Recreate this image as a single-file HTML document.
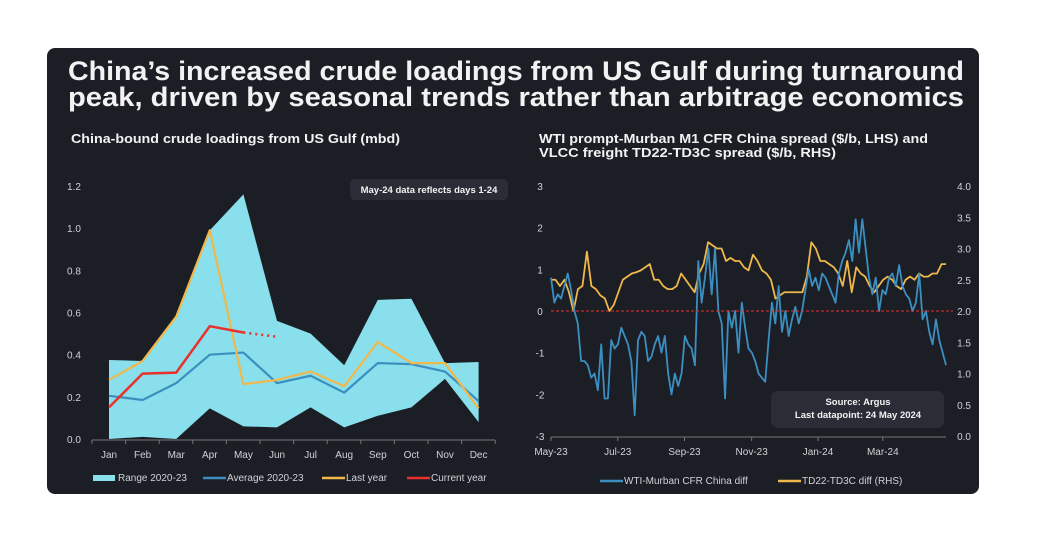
<!DOCTYPE html>
<html><head><meta charset="utf-8"><style>
html,body{margin:0;padding:0;background:#fff;}
svg{display:block;font-family:"Liberation Sans",sans-serif;}
</style></head><body>
<svg id="c" width="1050" height="547" xmlns="http://www.w3.org/2000/svg">
<rect x="47" y="48" width="932" height="446" rx="8" fill="#1c1e26"/>
<text x="516" y="80" text-anchor="middle" font-size="27" font-weight="bold" fill="#f2f2f2" textLength="896" lengthAdjust="spacingAndGlyphs">China’s increased crude loadings from US Gulf during turnaround</text>
<text x="516" y="106" text-anchor="middle" font-size="27" font-weight="bold" fill="#f2f2f2" textLength="896" lengthAdjust="spacingAndGlyphs">peak, driven by seasonal trends rather than arbitrage economics</text>
<text x="71" y="143" font-size="13" font-weight="bold" fill="#f2f2f2" textLength="329" lengthAdjust="spacingAndGlyphs">China-bound crude loadings from US Gulf (mbd)</text>
<text x="539" y="143" font-size="13" font-weight="bold" fill="#f2f2f2" textLength="389" lengthAdjust="spacingAndGlyphs">WTI prompt-Murban M1 CFR China spread ($/b, LHS) and</text>
<text x="539" y="157" font-size="13" font-weight="bold" fill="#f2f2f2" textLength="297" lengthAdjust="spacingAndGlyphs">VLCC freight TD22-TD3C spread ($/b, RHS)</text>
<g id="left"></g>
<g id="right"></g>
</svg>
<script>
const months=["Jan","Feb","Mar","Apr","May","Jun","Jul","Aug","Sep","Oct","Nov","Dec"];
const rangeHigh=[0.375,0.37,0.58,0.99,1.16,0.56,0.5,0.35,0.66,0.665,0.36,0.365];
const rangeLow=[0.0,0.01,0.0,0.145,0.06,0.055,0.15,0.055,0.11,0.15,0.285,0.08];
const average=[0.205,0.185,0.265,0.4,0.41,0.265,0.3,0.22,0.36,0.355,0.32,0.18];
const lastYear=[0.28,0.37,0.58,0.99,0.26,0.28,0.32,0.25,0.46,0.36,0.36,0.145];
const currentYear=[0.15,0.31,0.315,0.535,0.505];
const currentEstimate=0.485;
const leftTicks=[0,0.2,0.4,0.6,0.8,1.0,1.2];

const rightTickLabels=["May-23","Jul-23","Sep-23","Nov-23","Jan-24","Mar-24"];
const rightTickPos=[0,0.169,0.338,0.508,0.676,0.84];
const wti=[0.8,0.2,0.4,0.3,0.6,0.9,0.5,0.0,-0.3,-1.2,-1.2,-1.3,-1.6,-1.5,-1.9,-0.8,-2.1,-2.1,-0.7,-0.9,-0.8,-0.4,-0.6,-0.8,-1.2,-2.5,-0.7,-0.5,-0.6,-1.2,-1.1,-0.8,-0.6,-1.0,-0.6,-1.5,-2.0,-1.5,-1.8,-1.5,-0.6,-0.8,-0.9,-1.3,1.2,0.2,0.8,1.5,0.4,1.5,0.0,-0.3,-2.1,0.0,-0.4,0.0,-1.0,0.2,-0.4,-0.9,-1.0,-1.2,-1.5,-1.6,-1.7,-0.7,0.2,-0.3,0.6,-0.5,0.0,-0.6,-0.2,0.1,-0.3,0.0,0.5,1.0,0.6,0.8,0.5,0.9,0.8,0.6,0.4,0.2,0.9,1.2,1.4,1.7,1.2,2.2,1.4,2.2,1.5,0.8,0.4,0.8,0.0,0.5,0.4,0.8,0.9,0.6,1.1,0.6,0.4,0.3,0.0,0.2,0.9,-0.2,0.0,-0.5,-0.8,-0.2,-0.7,-1.0,-1.3];
const td22=[2.5,2.5,2.4,2.5,2.3,2.0,2.35,2.4,2.95,2.4,2.35,2.25,2.2,2.0,2.1,2.3,2.5,2.55,2.6,2.62,2.65,2.7,2.75,2.5,2.5,2.4,2.35,2.35,2.4,2.6,2.5,2.4,2.3,2.6,2.75,3.1,3.05,3.0,3.0,2.8,2.85,2.8,2.8,2.7,2.65,2.9,2.8,2.65,2.6,2.5,2.2,2.25,2.3,2.3,2.3,2.3,2.3,2.55,3.1,3.0,2.8,2.8,2.75,2.7,2.6,2.4,2.8,2.3,2.7,2.6,2.55,2.4,2.3,2.4,2.5,2.55,2.5,2.4,2.35,2.5,2.55,2.5,2.6,2.55,2.55,2.6,2.6,2.75,2.75];
const wtiTicks=[-3,-2,-1,0,1,2,3];
const tdTicks=[0,0.5,1,1.5,2,2.5,3,3.5,4];

const NS="http://www.w3.org/2000/svg";
function mk(parent,tag,attrs,text){const e=document.createElementNS(NS,tag);for(const k in attrs)e.setAttribute(k,attrs[k]);if(text!==undefined)e.textContent=text;parent.appendChild(e);return e;}

// LEFT
const L=document.getElementById('left');
const lx=i=>109+i*33.6;
const ly=v=>439-v*(253/1.2);
leftTicks.forEach(t=>{const e=mk(L,'text',{x:67,y:ly(t)+4,'font-size':10,fill:'#cfd2d6'},t.toFixed(1));

});
let d='';rangeHigh.forEach((v,i)=>d+=(i?'L':'M')+lx(i)+','+ly(v));
for(let i=rangeLow.length-1;i>=0;i--)d+='L'+lx(i)+','+ly(rangeLow[i]);
let a=mk(L,'path',{d:d+'Z',fill:'#89dfeb'});


let ax=mk(L,'line',{x1:92,x2:495,y1:440,y2:440,stroke:'#777',
'stroke-width':1});


for(let i=0;i<=12;i++){const t=mk(L,'line',{x1:92+i*33.6,x2:92+i*33.6,y1:440,y2:444,stroke:'#777'});

}
months.forEach((m,i)=>{const e=mk(L,'text',{x:lx(i),y:458,'font-size':10,fill:'#cfd2d6','text-anchor':'middle'},m);

});
function line(parent,vals,xf,yf,color,w){return mk(parent,'polyline',{points:vals.map((v,i)=>xf(i)+','+yf(v)).join(' '),fill:'none',stroke:color,'stroke-width':w,'stroke-linejoin':'round'});}
let p=line(L,average,lx,ly,'#3b8fc0',2.2);


p=line(L,lastYear,lx,ly,'#f0b84a',2.2);


p=line(L,currentYear,lx,ly,'#e8312a',2.5);


const n=currentYear.length-1;
p=mk(L,'line',{x1:lx(n),y1:ly(currentYear[n]),x2:lx(n+1),y2:ly(currentEstimate),stroke:'#e8312a','stroke-width':2.5,'stroke-dasharray':'2,4'});


let g=mk(L,'g',{});


mk(g,'rect',{x:350,y:179,width:158,height:21,rx:5,fill:'#2a2d36'});
mk(g,'text',{x:429,y:193,'font-size':9.5,'font-weight':'bold',fill:'#f2f2f2','text-anchor':'middle'},'May-24 data reflects days 1-24');
const legL=[['rect','#89dfeb','Range 2020-23',93],['line','#3b8fc0','Average 2020-23',203],['line','#f0b84a','Last year',322],['line','#e8312a','Current year',407]];
legL.forEach(([k,c,t,x])=>{const gg=mk(L,'g',{});


if(k==='rect')mk(gg,'rect',{x:x,y:475,width:22,height:6,fill:c});else mk(gg,'line',{x1:x,x2:x+23,y1:478,y2:478,stroke:c,'stroke-width':2.5});
mk(gg,'text',{x:x+(k==='rect'?25:24),y:481,'font-size':10,fill:'#cfd2d6'},t);});

// RIGHT
const R=document.getElementById('right');
const x0=551,x1=946;
const rxw=i=>x0+i*(x1-x0)/(wti.length-1);
const rxt=i=>x0+i*(x1-x0)/(td22.length-1);
const ryl=v=>311-v*41.67;
const ryr=v=>436-v*62.5;
wtiTicks.forEach(t=>{const e=mk(R,'text',{x:540,y:ryl(t)+4,'font-size':10,fill:'#cfd2d6','text-anchor':'middle'},String(t));

});
tdTicks.forEach(t=>{const e=mk(R,'text',{x:971,y:ryr(t)+4,'font-size':10,fill:'#cfd2d6','text-anchor':'end'},t.toFixed(1));

});
ax=mk(R,'line',{x1:551,x2:946,y1:437,y2:437,stroke:'#777'});


rightTickLabels.forEach((t,i)=>{const x=x0+rightTickPos[i]*(x1-x0);
const tk=mk(R,'line',{x1:x,x2:x,y1:437,y2:441,stroke:'#777'});


const e=mk(R,'text',{x:x,y:455,'font-size':10,fill:'#cfd2d6','text-anchor':'middle'},t);

});
p=line(R,td22,rxt,ryr,'#f0b84a',1.8);


p=line(R,wti,rxw,ryl,'#3b8fc0',1.8);


p=mk(R,'line',{x1:551,x2:953,y1:ryl(0),y2:ryl(0),stroke:'#e8312a','stroke-width':1,'stroke-dasharray':'3,2'});


g=mk(R,'g',{});


mk(g,'rect',{x:771,y:391,width:173,height:37,rx:7,fill:'#2a2d36'});
mk(g,'text',{x:858,y:405,'font-size':9.5,'font-weight':'bold',fill:'#f2f2f2','text-anchor':'middle'},'Source: Argus');
mk(g,'text',{x:858,y:418,'font-size':9.5,'font-weight':'bold',fill:'#f2f2f2','text-anchor':'middle'},'Last datapoint: 24 May 2024');
[['#3b8fc0','WTI-Murban CFR China diff',600],['#f0b84a','TD22-TD3C diff (RHS)',778]].forEach(([c,t,x])=>{const gg=mk(R,'g',{});


mk(gg,'line',{x1:x,x2:x+23,y1:481,y2:481,stroke:c,'stroke-width':2.5});
mk(gg,'text',{x:x+24,y:484,'font-size':10,fill:'#cfd2d6'},t);});
</script>
</body></html>
